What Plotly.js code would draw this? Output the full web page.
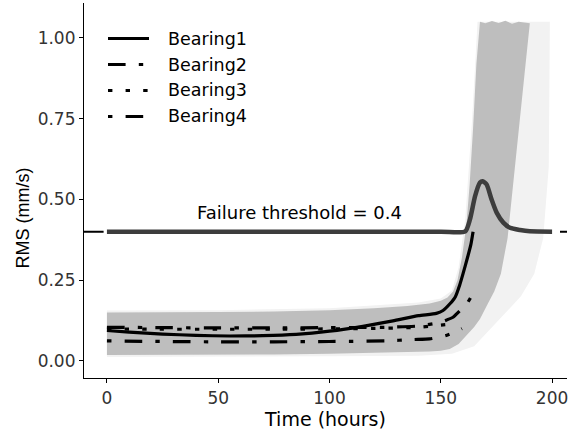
<!DOCTYPE html>
<html><head><meta charset="utf-8">
<script src="https://cdn.plot.ly/plotly-3.0.1.min.js"></script>
<style>html,body{margin:0;padding:0;background:#fff;}</style>
</head><body>
<div id="chart" style="width:571px;height:433px;"></div>
<script>
// ---- data ----
const threshold = 0.4;
const xTicks = [0, 50, 100, 150, 200];
const yTicks = [0, 0.25, 0.5, 0.75, 1.0];
const yTickLabels = ["0.00", "0.25", "0.50", "0.75", "1.00"];
const xTitle = "Time (hours)";
const yTitle = "RMS (mm/s)";

// dense envelope of simulated degradation paths (upper/left edge, top ends, lower/right edge)
const bandUpperX = [0, 25, 50, 75, 100, 120, 135, 145, 150, 153, 155.5, 157.5, 159.5, 161.5, 163, 164.5, 166, 167.6];
const bandUpperY = [0.150, 0.150, 0.151, 0.153, 0.157, 0.163, 0.170, 0.178, 0.186, 0.196, 0.215, 0.25, 0.32, 0.42, 0.55, 0.72, 0.92, 1.05];
const bandTopX = [170, 173, 176, 179, 182, 185, 188];
const bandTopY = [1.045, 1.052, 1.046, 1.053, 1.044, 1.05, 1.046];
const bandLowerX = [0, 25, 50, 75, 100, 125, 145, 150, 154, 158, 161.6, 165, 167.6, 171, 174, 177, 180, 182.5, 185, 187.5, 190];
const bandLowerY = [0.018, 0.018, 0.019, 0.020, 0.022, 0.025, 0.029, 0.031, 0.037, 0.052, 0.078, 0.105, 0.13, 0.175, 0.215, 0.27, 0.38, 0.56, 0.72, 0.88, 1.045];

// faint outer fringe of the simulated paths
const fringeUpperX = [0, 50, 100, 140, 150, 155, 158, 161, 164, 166.5];
const fringeUpperY = [0.156, 0.157, 0.163, 0.181, 0.193, 0.218, 0.29, 0.44, 0.74, 1.05];
const fringeLowerX = [0, 100, 140, 155, 165, 172, 180, 186, 192, 196, 198.5, 199];
const fringeLowerY = [0.012, 0.014, 0.016, 0.022, 0.045, 0.095, 0.155, 0.2, 0.27, 0.38, 0.6, 1.05];

// failure-time density drawn on the threshold line
const densX = [0, 150, 161, 163.1, 165.4, 167.6, 168.8, 170.6, 172.8, 175.1, 178.1, 181.1, 185.6, 190, 200];
const densY = [0.40, 0.40, 0.401, 0.438, 0.51, 0.552, 0.556, 0.546, 0.50, 0.459, 0.428, 0.412, 0.405, 0.401, 0.40];

// observed bearings
const b1X = [0, 10, 25, 40, 55, 70, 85, 100, 115, 128.5, 140, 148, 151, 154, 156.5, 158.5, 160, 162, 163.5, 164.5];
const b1Y = [0.094, 0.089, 0.083, 0.079, 0.077, 0.078, 0.082, 0.092, 0.107, 0.124, 0.140, 0.147, 0.156, 0.176, 0.198, 0.235, 0.27, 0.32, 0.36, 0.40];
const b2X = [0, 25, 50, 75, 100, 125, 140, 150, 155.5, 157, 160, 162, 164.3];
const b2Y = [0.104, 0.103, 0.102, 0.102, 0.103, 0.104, 0.108, 0.12, 0.135, 0.145, 0.165, 0.18, 0.207];
const b3X = [0, 25, 50, 75, 100, 125, 140, 152];
const b3Y = [0.099, 0.098, 0.098, 0.098, 0.099, 0.101, 0.104, 0.112];
const b4X = [0, 25, 50, 75, 100, 125, 137.7, 145, 152, 156, 159.5];
const b4Y = [0.062, 0.060, 0.059, 0.059, 0.060, 0.062, 0.066, 0.068, 0.078, 0.088, 0.10];

const names = ["Bearing1", "Bearing2", "Bearing3", "Bearing4"];
const dashes = ["solid", "17.6px,13.2px,4.4px,13.2px", "4.4px,13.2px", "4.4px,13.2px,17.6px,13.2px"];

// ---- build ----
function poly(ux, uy, tx, ty, lx, ly) {
  return {
    x: ux.concat(tx, lx.slice().reverse()),
    y: uy.concat(ty, ly.slice().reverse())
  };
}
const fringe = poly(fringeUpperX, fringeUpperY, [], [], fringeLowerX, fringeLowerY);
const band = poly(bandUpperX, bandUpperY, bandTopX, bandTopY, bandLowerX, bandLowerY);

const FONT = "DejaVu Sans, Liberation Sans, sans-serif";
const VFONT = "Liberation Sans, Arial, sans-serif";
const LW = 3.2;
const series = [[b1X, b1Y], [b2X, b2Y], [b3X, b3Y], [b4X, b4Y]];
const traces = [
  {x: fringe.x, y: fringe.y, type: "scatter", mode: "lines", fill: "toself",
   fillcolor: "#f2f2f2", line: {width: 0}, showlegend: false, hoverinfo: "skip"},
  {x: band.x, y: band.y, type: "scatter", mode: "lines", fill: "toself",
   fillcolor: "#bebebe", line: {width: 0}, showlegend: false, hoverinfo: "skip"},
  {x: densX, y: densY, type: "scatter", mode: "lines", line: {color: "#3d3d3d", width: 4.5, shape: "spline", smoothing: 0.6},
   showlegend: false, hoverinfo: "skip"}
];
series.forEach((s, i) => traces.push({
  x: s[0], y: s[1], name: names[i], type: "scatter", mode: "lines", showlegend: false,
  line: {color: "#000", width: LW, dash: dashes[i], shape: "spline", smoothing: 0.5}
}));

// plot area geometry (pixels) for hand-placed legend and y title
const PL = 84, PR = 567, PT = 3, PB = 378;
const px2x = p => (p - PL) / (PR - PL);
const px2y = p => (PB - p) / (PB - PT);
const legRows = [38.5, 64.5, 90.5, 116.5];

const shapes = [
  {type: "line", xref: "paper", x0: 0, x1: 1, yref: "y", y0: threshold, y1: threshold,
   line: {color: "#000", width: 2, dash: "19.6px,8.4px"}, layer: "below"}
];
const annotations = [
  {x: 86.7, y: 0.46, xref: "x", yref: "y", text: "Failure threshold = " + threshold, showarrow: false,
   font: {size: 18, family: FONT, color: "#000"}},
  {xref: "paper", yref: "paper", x: px2x(22.5), y: px2y(218), xanchor: "center", yanchor: "middle",
   text: yTitle, textangle: -90, showarrow: false, font: {size: 18, family: VFONT, color: "#000"}}
];
names.forEach((n, i) => {
  shapes.push({type: "line", xref: "paper", yref: "paper", x0: px2x(108), x1: px2x(149),
    y0: px2y(legRows[i]), y1: px2y(legRows[i]), line: {color: "#000", width: LW, dash: dashes[i]}});
  annotations.push({xref: "paper", yref: "paper", x: px2x(166), y: px2y(legRows[i]), xanchor: "left", yanchor: "middle",
    text: n, showarrow: false, font: {size: 17.5, family: FONT, color: "#000"}});
});

const layout = {
  width: 571, height: 433,
  margin: {l: PL, r: 571 - PR, t: PT, b: 433 - PB},
  paper_bgcolor: "#fff", plot_bgcolor: "#fff",
  font: {family: FONT, color: "#000"},
  xaxis: {
    range: [-10.3, 206.7], tickvals: xTicks, ticktext: xTicks.map(String),
    showline: true, linecolor: "#000", linewidth: 1.1, ticks: "outside", ticklen: 4, tickcolor: "#000", tickwidth: 1.1,
    showgrid: false, zeroline: false, tickfont: {size: 17, color: "#333"},
    title: {text: xTitle, font: {size: 19}, standoff: 2}
  },
  yaxis: {
    range: [-0.053, 1.108], tickvals: yTicks, ticktext: yTickLabels,
    showline: true, linecolor: "#000", linewidth: 1.1, ticks: "outside", ticklen: 4, tickcolor: "#000", tickwidth: 1.1,
    showgrid: false, zeroline: false, tickfont: {size: 17, color: "#333"}
  },
  shapes: shapes,
  annotations: annotations,
  showlegend: false
};

Plotly.newPlot("chart", traces, layout, {staticPlot: true, displayModeBar: false});
</script>
</body></html>
